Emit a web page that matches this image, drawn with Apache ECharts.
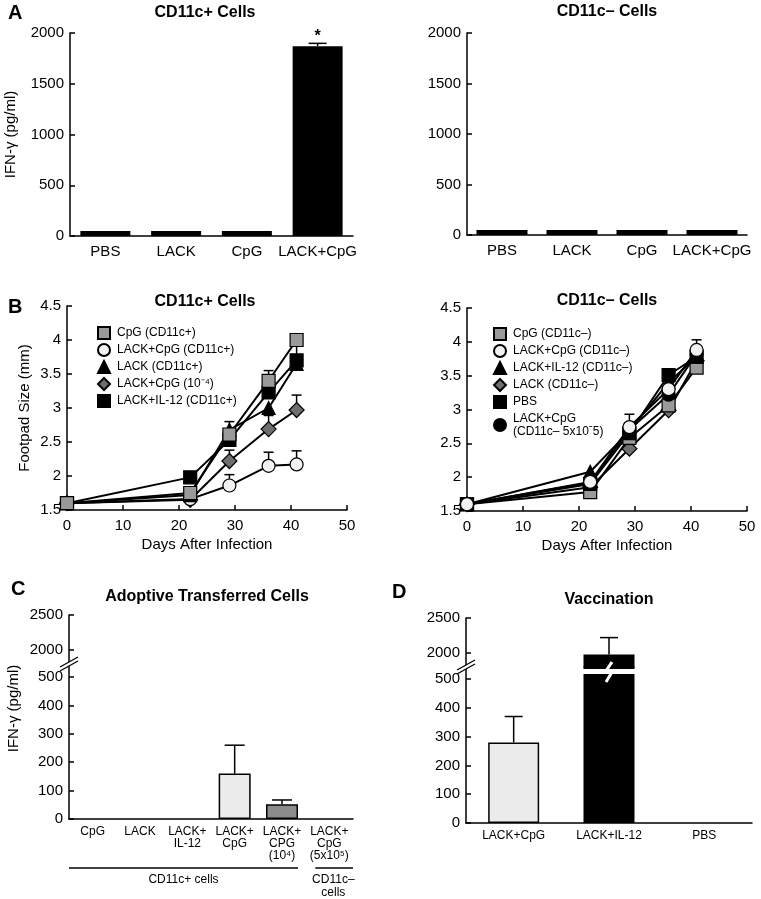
<!DOCTYPE html>
<html lang="en">
<head>
<meta charset="utf-8">
<title>CD11c cells: IFN-γ and footpad size</title>
<script src="https://cdn.jsdelivr.net/npm/echarts@6/dist/echarts.min.js"></script>
<style>
  html, body { margin: 0; padding: 0; background: #fff; }
  #main { width: 761px; height: 899px; }
</style>
</head>
<body>
<div id="main"></div>
<script>
// ---------- data ----------
// A: IFN-γ from CD11c+ / CD11c– cells
var groupsA = ['PBS', 'LACK', 'CpG', 'LACK+CpG'];
var ifnCD11cPos = [50, 50, 50, 1870];
var ifnCD11cPosErr = [0, 0, 0, 28];
var ifnCD11cNeg = [50, 50, 50, 50];

// B: footpad size over time
var days = [0, 22, 29, 36, 41];
var footPosNames = ['CpG (CD11c+)', 'LACK+CpG (CD11c+)', 'LACK (CD11c+)', 'LACK+CpG (10⁻⁴)', 'LACK+IL-12 (CD11c+)'];
var footPos = [
  [1.6, 1.75, 2.61, 3.40, 4.00],
  [1.6, 1.66, 1.86, 2.15, 2.17],
  [1.6, 1.72, 2.68, 3.00, 3.65],
  [1.6, 1.65, 2.22, 2.69, 2.97],
  [1.6, 1.98, 2.53, 3.23, 3.70]
];
var footPosErr = [
  [0, 0, 0, 0.15, 0],
  [0, 0, 0.16, 0.20, 0.20],
  [0, 0, 0.12, 0, 0],
  [0, 0, 0.16, 0.20, 0.22],
  [0, 0, 0, 0, 0.25]
];
var footNegNames = ['CpG (CD11c–)', 'LACK+CpG (CD11c–)', 'LACK+IL-12 (CD11c–)', 'LACK (CD11c–)', 'PBS', 'LACK+CpG\n(CD11c– 5x10ˉ5)'];
var footNeg = [
  [1.6, 1.78, 2.58, 3.06, 3.62],
  [1.6, 1.93, 2.74, 3.30, 3.88],
  [1.6, 2.08, 2.68, 3.40, 3.78],
  [1.6, 1.85, 2.42, 2.99, 3.72],
  [1.6, 1.90, 2.65, 3.51, 3.78],
  [1.6, 1.92, 2.70, 3.22, 3.82]
];
var footNegErr = [
  [0, 0, 0, 0, 0],
  [0, 0, 0.19, 0, 0.15],
  [0, 0, 0, 0, 0],
  [0, 0, 0, 0, 0],
  [0, 0, 0, 0, 0],
  [0, 0, 0, 0, 0]
];

// C: adoptive transferred cells
var groupsC = ['CpG', 'LACK', 'LACK+\nIL-12', 'LACK+\nCpG', 'LACK+\nCPG\n(10⁴)', 'LACK+\nCpG\n(5x10⁵)'];
var ifnAdoptive = [0, 0, 0, 160, 52, 0];
var ifnAdoptiveErr = [0, 0, 0, 100, 15, 0];

// D: vaccination
var groupsD = ['LACK+CpG', 'LACK+IL-12', 'PBS'];
var ifnVacc = [280, 1980, 0];
var ifnVaccErr = [90, 240, 0];

// ---------- styles ----------
var FONT = "'Liberation Sans', Arial, Helvetica, sans-serif";
var posMarkers = [
  {symbol: 'rect', fill: '#9a9a9a', size: 13},
  {symbol: 'circle', fill: '#f2f2f2', size: 13},
  {symbol: 'triangle', fill: '#000', size: 13},
  {symbol: 'diamond', fill: '#6e6e6e', size: 15},
  {symbol: 'rect', fill: '#000', size: 13}
];
var negMarkers = [
  {symbol: 'rect', fill: '#9a9a9a', size: 13},
  {symbol: 'circle', fill: '#f2f2f2', size: 13},
  {symbol: 'triangle', fill: '#000', size: 13},
  {symbol: 'diamond', fill: '#6e6e6e', size: 15},
  {symbol: 'rect', fill: '#000', size: 13},
  {symbol: 'circle', fill: '#000', size: 13}
];
var cBarColors = ['#fff', '#fff', '#fff', '#ebebeb', '#8c8c8c', '#fff'];
var dBarColors = ['#ebebeb', '#000', '#fff'];

var chart = echarts.init(document.getElementById('main'));

var axisLine = {show: true, lineStyle: {color: '#000', width: 1.5}};
var tickIn = {show: true, inside: true, length: 5, lineStyle: {color: '#000', width: 1.5}};
var plain = function (v) { return String(v); };

function catAxis(grid, data, fontSize, margin, lineHeight) {
  return {
    type: 'category', gridIndex: grid, data: data,
    axisLine: axisLine, axisTick: {show: false},
    axisLabel: {color: '#000', fontFamily: FONT, fontSize: fontSize, margin: margin, interval: 0, lineHeight: lineHeight}
  };
}
function valAxis(grid, min, max, interval, fontSize, extra) {
  var ax = {
    type: 'value', gridIndex: grid, min: min, max: max, interval: interval,
    axisLine: axisLine, axisTick: tickIn, splitLine: {show: false},
    axisLabel: {color: '#000', fontFamily: FONT, fontSize: fontSize, margin: 6, formatter: plain}
  };
  return Object.assign(ax, extra || {});
}

// error bar (upper half only)
function errBar(capW) {
  return function (params, api) {
    var e = api.value(2);
    if (!e) return;
    var x = api.value(0), v = api.value(1);
    var p0 = api.coord([x, v]), p1 = api.coord([x, v + e]);
    var st = {stroke: '#000', lineWidth: 1.5, fill: null};
    return {type: 'group', children: [
      {type: 'line', shape: {x1: p0[0], y1: p0[1], x2: p1[0], y2: p1[1]}, style: st},
      {type: 'line', shape: {x1: p1[0] - capW / 2, y1: p1[1], x2: p1[0] + capW / 2, y2: p1[1]}, style: st}
    ]};
  };
}
function errSeries(grid, rows, capW) {
  return {type: 'custom', xAxisIndex: grid, yAxisIndex: grid, renderItem: errBar(capW),
          data: rows, encode: {x: 0, y: 1}, z: 1, silent: true};
}

var yName = 'IFN-γ (pg/ml)';
var nameStyle = {color: '#000', fontFamily: FONT, fontSize: 15};
var breakTicksUp = [2000, 2500];
var breakTicksLow = [0, 100, 200, 300, 400, 500];

var xAxes = [
  catAxis(0, groupsA, 15, 8),
  catAxis(1, groupsA, 15, 8),
  {type: 'value', gridIndex: 2, min: 0, max: 50, interval: 10, axisLine: axisLine, axisTick: tickIn,
   splitLine: {show: false}, axisLabel: {color: '#000', fontFamily: FONT, fontSize: 15, margin: 8},
   name: 'Days After Infection', nameLocation: 'middle', nameGap: 27, nameTextStyle: nameStyle},
  {type: 'value', gridIndex: 3, min: 0, max: 50, interval: 10, axisLine: axisLine, axisTick: tickIn,
   splitLine: {show: false}, axisLabel: {color: '#000', fontFamily: FONT, fontSize: 15, margin: 8},
   name: 'Days After Infection', nameLocation: 'middle', nameGap: 27, nameTextStyle: nameStyle},
  Object.assign(catAxis(4, groupsC, 12, 7, 12), {show: false}),
  catAxis(5, groupsC, 12, 7, 12),
  Object.assign(catAxis(6, groupsD, 12, 7, 12), {show: false}),
  catAxis(7, groupsD, 12, 7, 12)
];

var yAxes = [
  valAxis(0, 0, 2000, 500, 15, {name: yName, nameLocation: 'middle', nameGap: 52, nameTextStyle: nameStyle}),
  valAxis(1, 0, 2000, 500, 15),
  valAxis(2, 1.5, 4.5, 0.5, 15, {name: 'Footpad Size (mm)', nameLocation: 'middle', nameGap: 35, nameTextStyle: nameStyle}),
  valAxis(3, 1.5, 4.5, 0.5, 15),
  valAxis(4, 1800, 2500, null, 15, {
    axisLabel: {color: '#000', fontFamily: FONT, fontSize: 15, margin: 6, formatter: plain, customValues: breakTicksUp},
    axisTick: Object.assign({}, tickIn, {customValues: breakTicksUp})}),
  valAxis(5, 0, 546, null, 15, {
    axisLabel: {color: '#000', fontFamily: FONT, fontSize: 15, margin: 6, formatter: plain, customValues: breakTicksLow},
    axisTick: Object.assign({}, tickIn, {customValues: breakTicksLow}),
    name: yName, nameLocation: 'middle', nameGap: 48,
    nameTextStyle: Object.assign({}, nameStyle, {padding: [0, 0, 0, 66]})}),
  valAxis(6, 1800, 2500, null, 15, {
    axisLabel: {color: '#000', fontFamily: FONT, fontSize: 15, margin: 6, formatter: plain, customValues: breakTicksUp},
    axisTick: Object.assign({}, tickIn, {customValues: breakTicksUp})}),
  valAxis(7, 0, 542, null, 15, {
    axisLabel: {color: '#000', fontFamily: FONT, fontSize: 15, margin: 6, formatter: plain, customValues: breakTicksLow},
    axisTick: Object.assign({}, tickIn, {customValues: breakTicksLow})})
];

var series = [];
// A
series.push({
  type: 'bar', xAxisIndex: 0, yAxisIndex: 0, barWidth: 50, z: 3,
  itemStyle: {color: '#000'},
  data: ifnCD11cPos.map(function (v, i) {
    return i === 3 ? {value: v, label: {show: true, position: 'top', distance: 2, formatter: '*',
      color: '#000', fontSize: 16, fontWeight: 'bold', fontFamily: FONT}} : v;
  })
});
series.push(errSeries(0, ifnCD11cPos.map(function (v, i) { return [i, v, ifnCD11cPosErr[i]]; }), 18));
series.push({type: 'bar', xAxisIndex: 1, yAxisIndex: 1, barWidth: 51, itemStyle: {color: '#000'}, data: ifnCD11cNeg});

// B
function lineSeries(grid, name, vals, mk) {
  return {
    type: 'line', name: name, xAxisIndex: grid, yAxisIndex: grid, z: 3,
    data: days.map(function (d, i) { return [d, vals[i]]; }),
    symbol: mk.symbol, symbolSize: mk.size, showSymbol: true,
    lineStyle: {color: '#000', width: 2},
    itemStyle: {color: mk.fill, borderColor: '#000', borderWidth: 1.2, opacity: 1}
  };
}
function errRows(vals, errs) {
  return days.map(function (d, i) { return [d, vals[i], errs[i]]; });
}
footPos.forEach(function (vals, k) {
  series.push(errSeries(2, errRows(vals, footPosErr[k]), 10));
});
[3, 1, 2, 4, 0].forEach(function (k) {
  series.push(lineSeries(2, footPosNames[k], footPos[k], posMarkers[k]));
});
footNeg.forEach(function (vals, k) {
  series.push(errSeries(3, errRows(vals, footNegErr[k]), 10));
});
[3, 0, 5, 2, 4, 1].forEach(function (k) {
  series.push(lineSeries(3, footNegNames[k], footNeg[k], negMarkers[k]));
});

// C
series.push({
  type: 'bar', xAxisIndex: 5, yAxisIndex: 5, barWidth: 32, z: 3,
  data: ifnAdoptive.map(function (v, i) {
    return {value: v, itemStyle: {color: cBarColors[i], borderColor: '#000', borderWidth: v ? 1.5 : 0}};
  })
});
series.push(errSeries(5, ifnAdoptive.map(function (v, i) { return [i, v, ifnAdoptiveErr[i]]; }), 20));

// D (bar crossing the axis break is drawn in both halves)
series.push({
  type: 'bar', xAxisIndex: 7, yAxisIndex: 7, barWidth: 51, z: 3,
  data: ifnVacc.map(function (v, i) {
    return {value: v, itemStyle: {color: dBarColors[i], borderColor: '#000', borderWidth: v ? 1.5 : 0}};
  })
});
series.push({
  type: 'bar', xAxisIndex: 6, yAxisIndex: 6, barWidth: 51, z: 3,
  data: ifnVacc.map(function (v, i) {
    return {value: v, itemStyle: {color: dBarColors[i], borderColor: '#000', borderWidth: v ? 1.5 : 0}};
  })
});
series.push(errSeries(7, [[0, ifnVacc[0], ifnVaccErr[0]]], 18));
series.push(errSeries(6, [[1, ifnVacc[1], ifnVaccErr[1]]], 18));

function legendFor(names, markers, left, top) {
  return {
    left: left, top: top, orient: 'vertical', itemGap: 3, itemWidth: 12, itemHeight: 12,
    selectedMode: false, padding: 0,
    textStyle: {color: '#000', fontFamily: FONT, fontSize: 12, lineHeight: 13, padding: [0, 0, 0, 2]},
    data: names.map(function (n, k) {
      return {name: n, icon: markers[k].symbol};
    })
  };
}

function ttl(text, cx, top, size) {
  return {text: text, left: cx, top: top, textAlign: 'center', padding: 0,
    textStyle: {color: '#000', fontFamily: FONT, fontSize: size || 16, fontWeight: 'bold'}};
}
function letter(text, x, top) {
  return {text: text, left: x, top: top, padding: 0,
    textStyle: {color: '#000', fontFamily: FONT, fontSize: 20, fontWeight: 'bold'}};
}

chart.setOption({
  animation: false,
  backgroundColor: '#fff',
  title: [
    letter('A', 8, 3), ttl('CD11c+ Cells', 205, 5), ttl('CD11c– Cells', 607, 4),
    letter('B', 8, 297), ttl('CD11c+ Cells', 205, 294), ttl('CD11c– Cells', 607, 293),
    letter('C', 11, 579), ttl('Adoptive Transferred Cells', 207, 589),
    letter('D', 392, 582), ttl('Vaccination', 609, 592)
  ],
  legend: [
    legendFor(footPosNames, posMarkers, 97, 326),
    legendFor(footNegNames, negMarkers, 493, 327)
  ],
  grid: [
    {left: 70, top: 33, width: 283, height: 203},
    {left: 467, top: 33, width: 280, height: 202},
    {left: 67, top: 306, width: 280, height: 204},
    {left: 467, top: 308, width: 280, height: 203},
    {left: 69, top: 615, width: 284, height: 49},
    {left: 69, top: 664, width: 284, height: 155},
    {left: 466, top: 618, width: 286, height: 49},
    {left: 466, top: 667, width: 286, height: 156}
  ],
  xAxis: xAxes,
  yAxis: yAxes,
  series: series
});

// ---------- axis breaks, bar break, group brackets ----------
function px(grid, val) {
  return chart.convertToPixel({xAxisIndex: grid, yAxisIndex: grid}, val);
}
function axisBreak(grid) {
  var p = px(grid, [0, chart.getModel().getComponent('yAxis', grid).get('max')]);
  var ax = chart.getModel().getComponent('grid', grid).coordinateSystem.getRect().x;
  var jy = p[1];
  var st = {stroke: '#000', lineWidth: 1.3};
  return [
    {type: 'polygon', z: 100, shape: {points: [[ax - 9, jy + 3], [ax + 9, jy - 7], [ax + 9, jy - 3], [ax - 9, jy + 7]]},
     style: {fill: '#fff'}},
    {type: 'line', z: 101, shape: {x1: ax - 9, y1: jy + 3, x2: ax + 9, y2: jy - 7}, style: st},
    {type: 'line', z: 101, shape: {x1: ax - 9, y1: jy + 7, x2: ax + 9, y2: jy - 3}, style: st}
  ];
}
var gfx = [].concat(axisBreak(5), axisBreak(7));

// gap across the IL-12 bar in D
var barTop = px(7, [1, 542]);
var cx = barTop[0], jy = barTop[1];
gfx.push({type: 'rect', z: 100, shape: {x: cx - 27, y: jy + 2, width: 54, height: 5}, style: {fill: '#fff'}});
gfx.push({type: 'polyline', z: 100, shape: {points: [[cx + 3, jy - 5], [cx - 3, jy + 4], [cx + 3, jy + 5], [cx - 3, jy + 15]]},
  style: {stroke: '#fff', lineWidth: 3, fill: null}});

// group brackets under C
var base = px(5, [0, 0]);
var band = 284 / groupsC.length;
var c4 = px(5, [4, 0])[0], c5 = px(5, [5, 0])[0];
var ly = base[1] + 49;
var gx0 = base[0] - band / 2;
gfx.push({type: 'line', shape: {x1: gx0, y1: ly, x2: c4 + 16, y2: ly}, style: {stroke: '#000', lineWidth: 1.3}});
gfx.push({type: 'line', shape: {x1: c5 - 14, y1: ly, x2: c5 + band / 2, y2: ly}, style: {stroke: '#000', lineWidth: 1.3}});
var txt = {fill: '#000', fontFamily: FONT, fontSize: 12, align: 'center', verticalAlign: 'top', lineHeight: 13};
gfx.push({type: 'text', x: (gx0 + c4 + 16) / 2, y: ly + 5, style: Object.assign({text: 'CD11c+ cells'}, txt)});
gfx.push({type: 'text', x: c5 + 4, y: ly + 5, style: Object.assign({text: 'CD11c–\ncells'}, txt)});

chart.setOption({graphic: gfx});
</script>
</body>
</html>
